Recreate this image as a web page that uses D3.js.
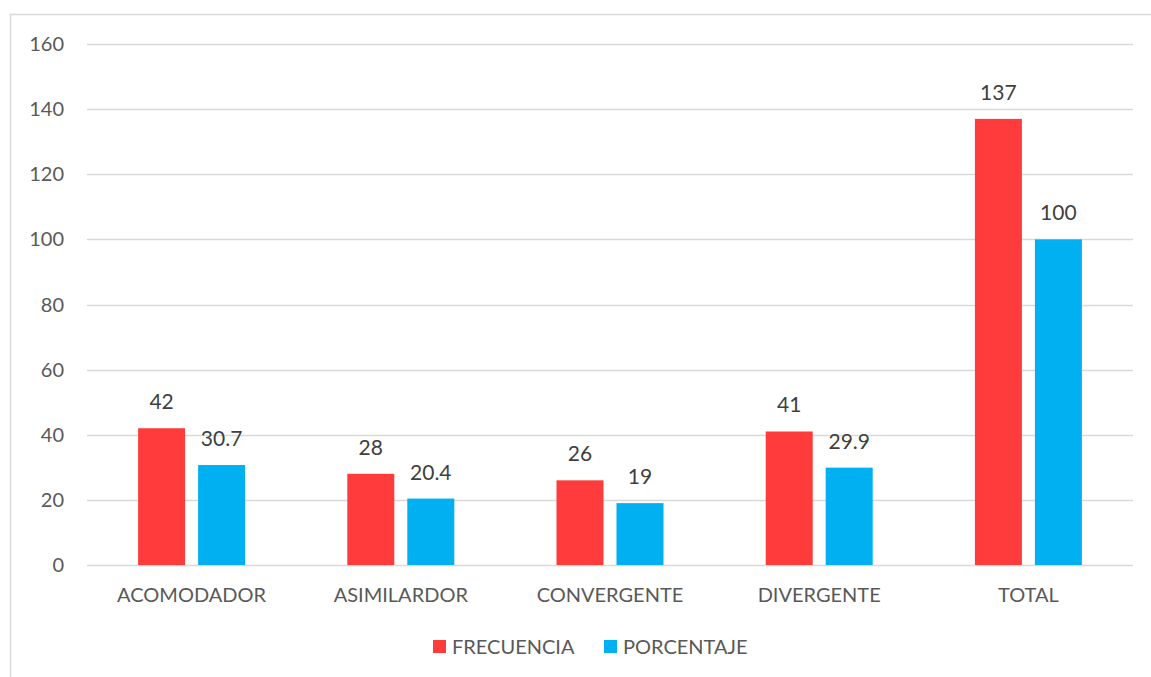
<!DOCTYPE html>
<html>
<head>
<meta charset="utf-8">
<style>
  body { margin: 0; background: #fff; }
  svg text { font-family: Lato, "Open Sans", sans-serif; }
</style>
</head>
<body>
<script src="https://d3js.org/d3.v7.min.js"></script>
<script>
var categories = ["ACOMODADOR", "ASIMILARDOR", "CONVERGENTE", "DIVERGENTE", "TOTAL"];
var series = ["FRECUENCIA", "PORCENTAJE"];
var frecuencia = [42, 28, 26, 41, 137];
var porcentaje = [30.7, 20.4, 19, 29.9, 100];
var yTicks = [0, 20, 40, 60, 80, 100, 120, 140, 160];
var colors = ["#ff3b3b", "#00b0f0"];

var width = 1151, height = 677;
var svg = d3.select("body").append("svg").attr("width", width).attr("height", height);

// chart frame
svg.append("rect")
  .attr("x", 10.5).attr("y", 14.5)
  .attr("width", 1150).attr("height", 700)
  .attr("fill", "none").attr("stroke", "#d9d9d9").attr("stroke-width", 1.5);

var plotLeft = 87, plotRight = 1133, plotTop = 44, plotBottom = 565;

var x = d3.scaleBand().domain(categories).range([plotLeft, plotRight]);
var y = d3.scaleLinear().domain([0, 160]).range([plotBottom, plotTop]);
var sub = d3.scaleBand().domain(series).range([0, 107]).paddingInner(0.2167);

// gridlines
svg.append("g").selectAll("line").data(yTicks).enter().append("line")
  .attr("x1", plotLeft).attr("x2", plotRight)
  .attr("y1", function(d) { return Math.round(y(d)) + 0.5; })
  .attr("y2", function(d) { return Math.round(y(d)) + 0.5; })
  .attr("stroke", "#d9d9d9").attr("stroke-width", 1.3);

// y labels
svg.append("g").selectAll("text").data(yTicks).enter().append("text")
  .attr("x", 64).attr("y", function(d) { return y(d); })
  .attr("dy", "0.35em").attr("text-anchor", "end")
  .attr("font-size", 20).attr("fill", "#595959")
  .text(function(d) { return d; });

var rows = categories.map(function(c, i) {
  return { cat: c, vals: [frecuencia[i], porcentaje[i]] };
});

var groups = svg.append("g").selectAll("g").data(rows).enter().append("g")
  .attr("transform", function(d) {
    return "translate(" + (x(d.cat) + x.bandwidth() / 2 - 53.5) + ",0)";
  });

groups.selectAll("rect").data(function(d) {
  return d.vals.map(function(v, j) { return { s: series[j], v: v, j: j }; });
}).enter().append("rect")
  .attr("x", function(d) { return sub(d.s); })
  .attr("width", sub.bandwidth())
  .attr("y", function(d) { return y(d.v); })
  .attr("height", function(d) { return y(0) - y(d.v); })
  .attr("fill", function(d) { return colors[d.j]; });

groups.selectAll("text").data(function(d) {
  return d.vals.map(function(v, j) { return { s: series[j], v: v, j: j }; });
}).enter().append("text")
  .attr("x", function(d) { return sub(d.s) + sub.bandwidth() / 2; })
  .attr("y", function(d) { return y(d.v) - 19; })
  .attr("text-anchor", "middle")
  .attr("font-size", 21).attr("fill", "#404040")
  .text(function(d) { return d.v; });

// category labels
svg.append("g").selectAll("text").data(categories).enter().append("text")
  .attr("x", function(d) { return x(d) + x.bandwidth() / 2; })
  .attr("y", 602)
  .attr("text-anchor", "middle")
  .attr("font-size", 20).attr("fill", "#595959")
  .text(function(d) { return d; });

// legend
var legendX = [433, 604];
var legend = svg.append("g").selectAll("g").data(series).enter().append("g")
  .attr("transform", function(d, i) { return "translate(" + legendX[i] + ",640)"; });
legend.append("rect").attr("width", 13).attr("height", 13)
  .attr("fill", function(d, i) { return colors[i]; });
legend.append("text").attr("x", 19).attr("y", 14)
  .attr("font-size", 20).attr("fill", "#595959")
  .text(function(d) { return d; });
</script>
</body>
</html>
